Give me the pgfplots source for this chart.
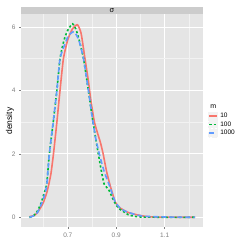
\documentclass[border=0pt]{standalone}
\usepackage{pgfplots}
\pgfplotsset{compat=1.18}
\usepackage{fontspec}
\setmainfont{Liberation Sans}
\definecolor{cR}{HTML}{F8766D}
\definecolor{cG}{HTML}{00BA38}
\definecolor{cB}{HTML}{619CFF}
\definecolor{panel}{HTML}{E5E5E5}
\definecolor{minorg}{HTML}{F2F2F2}
\definecolor{strip}{HTML}{CCCCCC}
\definecolor{tickc}{HTML}{7F7F7F}
\begin{document}
\begin{tikzpicture}[x=1pt,y=1pt]
\begin{axis}[
  at={(0,0)}, anchor=south west,
  scale only axis, width=182pt, height=213pt,
  xmin=0.507, xmax=1.258, ymin=-0.306, ymax=6.41,
  axis background/.style={fill=panel},
  axis line style={draw=none},
  xtick={0.7,0.9,1.1}, minor xtick={0.6,0.8,1.0,1.2},
  ytick={0,2,4,6}, minor ytick={1,3,5},
  xticklabels={0.7,0.9,1.1},
  grid=both,
  major grid style={white, line width=0.8pt},
  minor grid style={minorg, line width=0.5pt},
  tick align=outside, tick pos=left,
  major tick length=2pt, minor tick length=0pt,
  tick style={tickc, line width=0.5pt},
  ticklabel style={font=\fontsize{6.5}{7}\selectfont, text=tickc},
  /pgf/number format/assume math mode=true,
  xticklabel style={yshift=-0.5pt},
  clip=false,
  legend style={at={(rel axis cs:1.025,0.582)}, anchor=north west, draw=none, fill=none,
    font=\fontsize{6.5}{7}\selectfont, row sep=-1.5pt, inner sep=0pt},
  legend cell align=left,
  legend image code/.code={
    \fill[minorg] (0pt,-3.7pt) rectangle (9pt,3.7pt);
    \draw[#1] (0.8pt,0pt) -- (8.2pt,0pt);
  },
]
\addlegendimage{empty legend}
\addlegendentry{\hspace{-11pt}\fontsize{7}{8}\selectfont m}
\addplot[cR, line width=1.6pt, smooth, tension=0.35] coordinates {
(0.542,0.02) (0.56,0.05) (0.575,0.15) (0.59,0.33) (0.60,0.48) (0.615,0.82)
(0.63,1.35) (0.641,2.0) (0.655,3.0) (0.668,4.0) (0.682,5.0) (0.70,5.6)
(0.72,5.95) (0.74,6.07) (0.755,5.8) (0.771,5.0) (0.785,4.3) (0.795,3.7)
(0.81,3.0) (0.825,2.6) (0.835,2.35) (0.846,2.0) (0.86,1.45) (0.875,1.0)
(0.895,0.5) (0.91,0.33) (0.925,0.25) (0.95,0.15) (0.985,0.08) (1.02,0.03)
(1.05,0.01) (1.1,0.005) (1.225,0.0)};
\addlegendentry{10}
\addplot[cG, line width=1.6pt, dash pattern=on 2.2pt off 2.2pt, smooth, tension=0.35] coordinates {
(0.542,0.0) (0.56,0.06) (0.575,0.2) (0.59,0.45) (0.60,0.7) (0.613,1.05)
(0.624,2.0) (0.64,3.0) (0.655,4.0) (0.668,5.0) (0.685,5.6) (0.70,5.9)
(0.72,6.1) (0.735,5.9) (0.75,5.5) (0.765,5.0) (0.785,4.0) (0.80,3.2)
(0.815,2.5) (0.826,2.0) (0.84,1.4) (0.85,1.05) (0.86,0.95) (0.87,0.85)
(0.885,0.6) (0.895,0.45) (0.91,0.28) (0.93,0.18) (0.95,0.08) (0.97,0.04)
(1.0,0.01) (1.1,0.0) (1.225,0.0)};
\addlegendentry{100}
\addplot[cB, line width=1.6pt, dash pattern=on 5pt off 3pt, smooth, tension=0.35] coordinates {
(0.542,0.0) (0.56,0.05) (0.575,0.15) (0.59,0.4) (0.60,0.6) (0.613,1.0)
(0.624,2.0) (0.64,3.0) (0.655,4.0) (0.668,5.0) (0.69,5.5) (0.705,5.75)
(0.726,5.85) (0.745,5.6) (0.765,5.0) (0.785,4.0) (0.80,3.2) (0.815,2.5)
(0.83,2.0) (0.85,1.45) (0.872,1.0) (0.895,0.5) (0.915,0.3) (0.935,0.2)
(0.96,0.13) (0.985,0.07) (1.02,0.03) (1.1,0.01) (1.225,0.0)};
\addlegendentry{1000}
\end{axis}
\fill[strip] (0,213) rectangle (182,220);
\node[font=\fontsize{7.5}{7.5}\selectfont, inner sep=0pt] at (91,216.5) {σ};
\node[font=\fontsize{8.5}{9}\selectfont, rotate=90, inner sep=0pt] at (-11,106) {density};
\pgfresetboundingbox
\path (-21,-22) rectangle (228,227);
\end{tikzpicture}
\end{document}
